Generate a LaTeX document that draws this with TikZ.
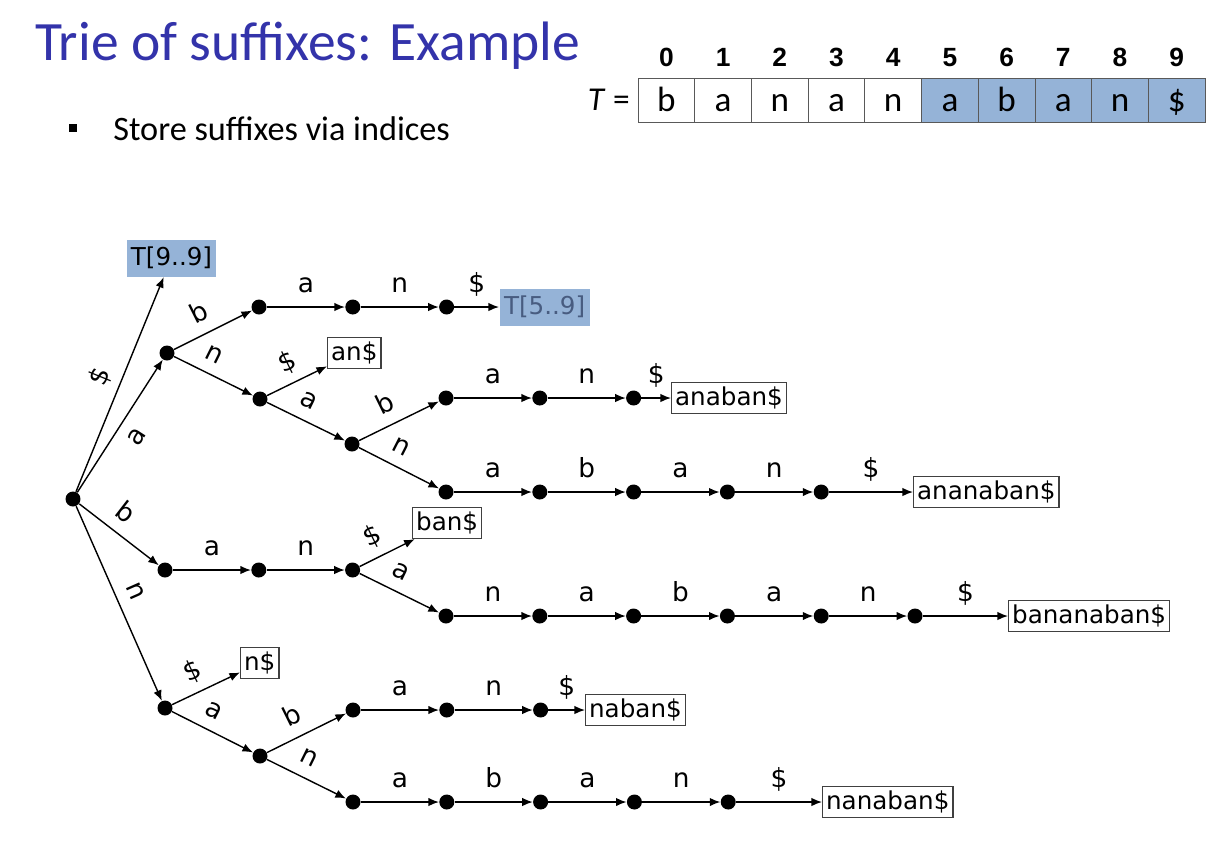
\documentclass[tikz,border=0pt]{standalone}
\usepackage{fontspec}
\setmainfont{Carlito}
\newfontfamily\triefont{DejaVu Sans}
\newfontfamily\digitfont{Liberation Sans}
\usetikzlibrary{arrows.meta}

\definecolor{titleblue}{RGB}{51,51,170}
\definecolor{cellblue}{RGB}{149,179,215}
\definecolor{fadedblue}{RGB}{72,92,128}

\tikzset{
  dot/.style={circle, fill=black, inner sep=0pt, minimum size=0.3cm},
  edge/.style={-{Latex[length=6pt,width=4.8pt]}, line width=0.8pt},
  lbl/.style={font=\triefont\fontsize{15}{18}\selectfont, inner sep=0pt, text depth=0pt},
  hlbl/.style={lbl, above=0.28cm},
  slbl/.style={lbl, sloped, above=0.24cm, pos=0.42},
  slblb/.style={lbl, sloped, below=0.24cm, pos=0.42},
  leaf/.style={draw=black!75, line width=0.7pt, fill=white, inner xsep=2pt, inner ysep=0pt,
    minimum height=0.62cm, text height=10.5pt, text depth=2pt,
    font=\triefont\fontsize{14}{17}\selectfont},
  hit/.style={leaf, draw=none, fill=cellblue, inner xsep=2.5pt, minimum height=0.74cm},
  cell/.style={draw=black!65, line width=0.5pt, minimum width=1.134cm, minimum height=0.88cm,
    inner sep=0pt, text height=13pt, text depth=0pt, font=\fontsize{20}{24}\selectfont},
  idx/.style={inner sep=0pt, anchor=base, font=\digitfont\bfseries\fontsize{15}{18}\selectfont},
}

% one horizontal run of the trie: name, start x, y, edge letters
\newcommand{\trierow}[4]{%
  \foreach \l [count=\i] in {#4} {
    \pgfmathtruncatemacro\j{\i-1}
    \node[dot] (#1\i) at ({#2+93.8*\i},#3) {};
    \draw[edge] (#1\j) -- node[hlbl] {\l} (#1\i);
  }%
}

\begin{document}
\begin{tikzpicture}[x=0.02cm, y=-0.02cm]
  \useasboundingbox (0,0) rectangle (1216,840);

  % heading
  \node[anchor=base west, inner sep=0pt, text=titleblue, font=\fontsize{31.6}{36}\selectfont]
    (title) at (35,60) {Trie of suffixes: Example};
  \node[fill=black, inner sep=0pt, minimum size=0.16cm] (bullet) at (73,128) {};
  \node[anchor=base west, inner sep=0pt, font=\fontsize{19.5}{23}\selectfont]
    (point) at (113,140) {Store suffixes via indices};

  % the text T
  \node[anchor=base east, inner sep=0pt, font=\fontsize{19}{22}\selectfont] (teq) at (630,110) {\textit{T} =};
  \foreach \ch [count=\i from 0] in {b,a,n,a,n,a,b,a,n,\$} {
    \ifnum\i>4 \def\cf{cellblue}\else\def\cf{white}\fi
    \node[cell, fill=\cf] (c\i) at ({666.4+56.7*\i},100) {\ch};
    \node[idx] (d\i) at ({666.4+56.7*\i},66) {\i};
  }

  % branching dots
  \node[dot] (r) at (73,499) {};
  \node[dot] (a) at (167,353) {};
  \node[dot] (b0) at (165,570) {};
  \node[dot] (n) at (165,708) {};
  \node[dot] (ab0) at (259,307) {};
  \node[dot] (an) at (260,399) {};
  \node[dot] (ana) at (352,444) {};
  \node[dot] (anab0) at (446,398) {};
  \node[dot] (anan0) at (446,492) {};
  \node[dot] (ban0) at (446,616) {};
  \node[dot] (na) at (260,756) {};
  \node[dot] (nab0) at (353,710) {};
  \node[dot] (nan0) at (353,802) {};

  % leaves
  \node[hit] (t99) at (171.5,258) {T[9..9]};
  \node[hit, text=fadedblue, anchor=west] (t59) at (499,307) {T[5..9]};
  \node[leaf, anchor=west] (s1) at (327,353) {an\$};
  \node[leaf, anchor=west] (s2) at (671,398) {anaban\$};
  \node[leaf, anchor=west] (s3) at (913,492) {ananaban\$};
  \node[leaf, anchor=west] (s4) at (412,523) {ban\$};
  \node[leaf, anchor=west] (s5) at (1008,616) {bananaban\$};
  \node[leaf, anchor=west] (s6) at (240,663) {n\$};
  \node[leaf, anchor=west] (s7) at (585,710) {naban\$};
  \node[leaf, anchor=west] (s8) at (822,802) {nanaban\$};

  % straight runs
  \trierow{ab}{259}{307}{a,n}
  \trierow{anab}{446}{398}{a,n}
  \trierow{anan}{446}{492}{a,b,a,n}
  \trierow{b}{165}{570}{a,n}
  \trierow{ban}{446}{616}{n,a,b,a,n}
  \trierow{nab}{353}{710}{a,n}
  \trierow{nan}{353}{802}{a,b,a,n}

  \draw[edge] (ab2) -- node[hlbl] {\$} (t59);
  \draw[edge] (anab2) -- node[hlbl] {\$} (s2);
  \draw[edge] (anan4) -- node[hlbl] {\$} (s3);
  \draw[edge] (ban5) -- node[hlbl] {\$} (s5);
  \draw[edge] (nab2) -- node[hlbl] {\$} (s7);
  \draw[edge] (nan4) -- node[hlbl] {\$} (s8);

  % branches
  \draw[edge] (r) -- node[slbl, pos=0.5] {\$} (t99);
  \draw[edge] (r) -- node[slblb, pos=0.5] {a} (a);
  \draw[edge] (r) -- node[slbl] {b} (b0);
  \draw[edge] (r) -- node[slbl, pos=0.48] {n} (n);
  \draw[edge] (a) -- node[slbl, pos=0.45] {b} (ab0);
  \draw[edge] (a) -- node[slbl, pos=0.4] {n} (an);
  \draw[edge] (an) -- node[slbl, pos=0.5] {\$} (s1);
  \draw[edge] (an) -- node[slbl] {a} (ana);
  \draw[edge] (ana) -- node[slbl, pos=0.44] {b} (anab0);
  \draw[edge] (ana) -- node[slbl, pos=0.41] {n} (anan0);
  \draw[edge] (b2) -- node[slbl, pos=0.4] {\$} (s4);
  \draw[edge] (b2) -- node[slbl, pos=0.41] {a} (ban0);
  \draw[edge] (n) -- node[slbl, pos=0.44] {\$} (s6);
  \draw[edge] (n) -- node[slbl, pos=0.41] {a} (na);
  \draw[edge] (na) -- node[slbl, pos=0.44] {b} (nab0);
  \draw[edge] (na) -- node[slbl, pos=0.42] {n} (nan0);
\end{tikzpicture}
\end{document}
